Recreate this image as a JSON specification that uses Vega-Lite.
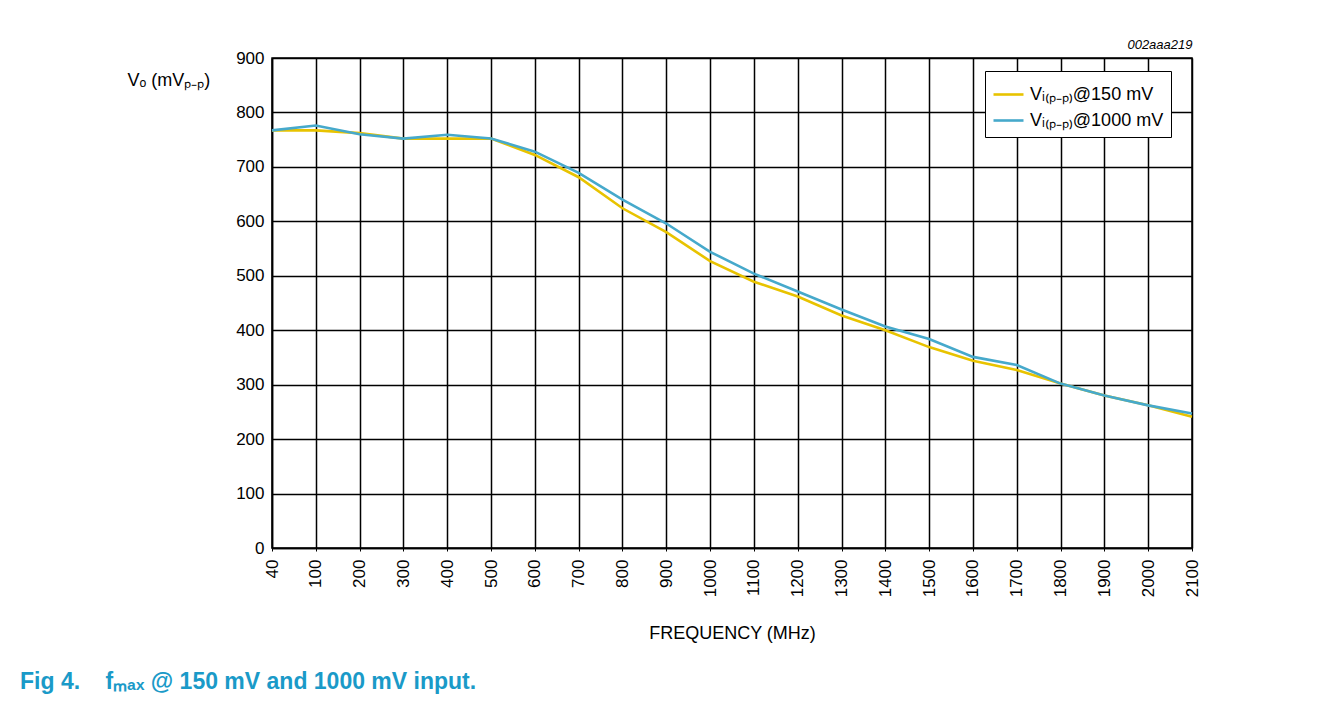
{
  "$schema": "https://vega.github.io/schema/vega-lite/v6.json",
  "width": 920,
  "height": 490,
  "autosize": {"type": "none"},
  "padding": {"left": 272, "top": 58, "right": 131, "bottom": 158},
  "background": "white",
  "config": {
    "font": "Liberation Sans",
    "view": {"stroke": "black", "strokeWidth": 1.5},
    "axis": {"labelColor": "black", "titleColor": "black", "labelFont": "Liberation Sans", "titleFont": "Liberation Sans", "titleFontWeight": "normal"}
  },
  "title": {
    "text": "Fig 4.\u00a0\u00a0\u00a0 fₘₐₓ @ 150 mV and 1000 mV input.",
    "orient": "bottom",
    "anchor": "start",
    "frame": "group",
    "dx": -252,
    "offset": 47,
    "fontSize": 23,
    "fontWeight": "bold",
    "color": "#1A9AC8",
    "baseline": "alphabetic"
  },
  "data": {
    "values": [
      {"freq": 40, "series": "Vᵢ₍ₚ₋ₚ₎@150 mV", "vo": 767},
      {"freq": 100, "series": "Vᵢ₍ₚ₋ₚ₎@150 mV", "vo": 767},
      {"freq": 200, "series": "Vᵢ₍ₚ₋ₚ₎@150 mV", "vo": 762},
      {"freq": 300, "series": "Vᵢ₍ₚ₋ₚ₎@150 mV", "vo": 752},
      {"freq": 400, "series": "Vᵢ₍ₚ₋ₚ₎@150 mV", "vo": 752},
      {"freq": 500, "series": "Vᵢ₍ₚ₋ₚ₎@150 mV", "vo": 752},
      {"freq": 600, "series": "Vᵢ₍ₚ₋ₚ₎@150 mV", "vo": 722},
      {"freq": 700, "series": "Vᵢ₍ₚ₋ₚ₎@150 mV", "vo": 681},
      {"freq": 800, "series": "Vᵢ₍ₚ₋ₚ₎@150 mV", "vo": 624},
      {"freq": 900, "series": "Vᵢ₍ₚ₋ₚ₎@150 mV", "vo": 580},
      {"freq": 1000, "series": "Vᵢ₍ₚ₋ₚ₎@150 mV", "vo": 527},
      {"freq": 1100, "series": "Vᵢ₍ₚ₋ₚ₎@150 mV", "vo": 489},
      {"freq": 1200, "series": "Vᵢ₍ₚ₋ₚ₎@150 mV", "vo": 462},
      {"freq": 1300, "series": "Vᵢ₍ₚ₋ₚ₎@150 mV", "vo": 427},
      {"freq": 1400, "series": "Vᵢ₍ₚ₋ₚ₎@150 mV", "vo": 400},
      {"freq": 1500, "series": "Vᵢ₍ₚ₋ₚ₎@150 mV", "vo": 369},
      {"freq": 1600, "series": "Vᵢ₍ₚ₋ₚ₎@150 mV", "vo": 344},
      {"freq": 1700, "series": "Vᵢ₍ₚ₋ₚ₎@150 mV", "vo": 327},
      {"freq": 1800, "series": "Vᵢ₍ₚ₋ₚ₎@150 mV", "vo": 302},
      {"freq": 1900, "series": "Vᵢ₍ₚ₋ₚ₎@150 mV", "vo": 280},
      {"freq": 2000, "series": "Vᵢ₍ₚ₋ₚ₎@150 mV", "vo": 262},
      {"freq": 2100, "series": "Vᵢ₍ₚ₋ₚ₎@150 mV", "vo": 241},
      {"freq": 40, "series": "Vᵢ₍ₚ₋ₚ₎@1000 mV", "vo": 767},
      {"freq": 100, "series": "Vᵢ₍ₚ₋ₚ₎@1000 mV", "vo": 776},
      {"freq": 200, "series": "Vᵢ₍ₚ₋ₚ₎@1000 mV", "vo": 760},
      {"freq": 300, "series": "Vᵢ₍ₚ₋ₚ₎@1000 mV", "vo": 752},
      {"freq": 400, "series": "Vᵢ₍ₚ₋ₚ₎@1000 mV", "vo": 759},
      {"freq": 500, "series": "Vᵢ₍ₚ₋ₚ₎@1000 mV", "vo": 752},
      {"freq": 600, "series": "Vᵢ₍ₚ₋ₚ₎@1000 mV", "vo": 728},
      {"freq": 700, "series": "Vᵢ₍ₚ₋ₚ₎@1000 mV", "vo": 689},
      {"freq": 800, "series": "Vᵢ₍ₚ₋ₚ₎@1000 mV", "vo": 640},
      {"freq": 900, "series": "Vᵢ₍ₚ₋ₚ₎@1000 mV", "vo": 596},
      {"freq": 1000, "series": "Vᵢ₍ₚ₋ₚ₎@1000 mV", "vo": 544},
      {"freq": 1100, "series": "Vᵢ₍ₚ₋ₚ₎@1000 mV", "vo": 504},
      {"freq": 1200, "series": "Vᵢ₍ₚ₋ₚ₎@1000 mV", "vo": 471},
      {"freq": 1300, "series": "Vᵢ₍ₚ₋ₚ₎@1000 mV", "vo": 438},
      {"freq": 1400, "series": "Vᵢ₍ₚ₋ₚ₎@1000 mV", "vo": 407},
      {"freq": 1500, "series": "Vᵢ₍ₚ₋ₚ₎@1000 mV", "vo": 384},
      {"freq": 1600, "series": "Vᵢ₍ₚ₋ₚ₎@1000 mV", "vo": 351},
      {"freq": 1700, "series": "Vᵢ₍ₚ₋ₚ₎@1000 mV", "vo": 336},
      {"freq": 1800, "series": "Vᵢ₍ₚ₋ₚ₎@1000 mV", "vo": 302},
      {"freq": 1900, "series": "Vᵢ₍ₚ₋ₚ₎@1000 mV", "vo": 280},
      {"freq": 2000, "series": "Vᵢ₍ₚ₋ₚ₎@1000 mV", "vo": 262},
      {"freq": 2100, "series": "Vᵢ₍ₚ₋ₚ₎@1000 mV", "vo": 247}
    ]
  },
  "layer": [
    {
      "mark": {"type": "line", "strokeWidth": 2.6},
      "encoding": {
        "x": {
          "field": "freq",
          "type": "ordinal",
          "scale": {"type": "point", "padding": 0},
          "axis": {
            "title": "FREQUENCY (MHz)",
            "titleFontSize": 18,
            "titleY": 90,
            "titleBaseline": "alphabetic",
            "labelAngle": -90,
            "labelAlign": "right",
            "labelBaseline": "middle",
            "labelFontSize": 17,
            "labelPadding": 8,
            "ticks": true,
            "tickSize": 3,
            "tickColor": "black",
            "grid": true,
            "gridColor": "black",
            "gridWidth": 1.5,
            "gridOpacity": 1,
            "domainColor": "black",
            "domainWidth": 1.5
          }
        },
        "y": {
          "field": "vo",
          "type": "quantitative",
          "scale": {"domain": [0, 900], "nice": false, "zero": true},
          "axis": {
            "values": [0, 100, 200, 300, 400, 500, 600, 700, 800, 900],
            "title": "Vₒ (mVₚ₋ₚ)",
            "titleAngle": 0,
            "titleAlign": "left",
            "titleBaseline": "alphabetic",
            "titleX": -145,
            "titleY": 27,
            "titleFontSize": 18,
            "labelFontSize": 17,
            "labelPadding": 8,
            "ticks": false,
            "grid": true,
            "gridColor": "black",
            "gridWidth": 1.5,
            "gridOpacity": 1,
            "domainColor": "black",
            "domainWidth": 1.5
          }
        },
        "color": {
          "field": "series",
          "type": "nominal",
          "sort": null,
          "scale": {"domain": ["Vᵢ₍ₚ₋ₚ₎@150 mV", "Vᵢ₍ₚ₋ₚ₎@1000 mV"], "range": ["#E8C300", "#46A9CB"]},
          "legend": {
            "title": null,
            "orient": "none",
            "legendX": 713,
            "legendY": 13,
            "padding": 7,
            "strokeColor": "black",
            "fillColor": "white",
            "symbolType": "stroke",
            "symbolSize": 900,
            "symbolStrokeWidth": 2.6,
            "labelFontSize": 18,
            "labelColor": "black",
            "labelOffset": 5,
            "rowPadding": 0,
            "labelLimit": 300
          }
        }
      }
    },
    {
      "mark": {"type": "point", "opacity": 0},
      "encoding": {
        "x": {
          "field": "freq",
          "type": "ordinal",
          "axis": {
            "orient": "top",
            "title": "002aaa219",
            "titleFontStyle": "italic",
            "titleFontSize": 13,
            "titleAnchor": "end",
            "titleAlign": "right",
            "titleBaseline": "alphabetic",
            "titleX": 920,
            "titleY": -10,
            "labels": false,
            "ticks": false,
            "domain": false,
            "grid": false
          }
        },
        "y": {"field": "vo", "type": "quantitative"}
      }
    }
  ],
  "resolve": {"axis": {"x": "independent"}}
}
